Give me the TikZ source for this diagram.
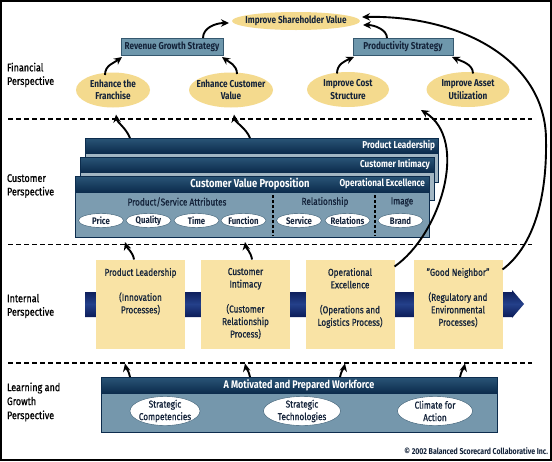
\documentclass[tikz,border=0pt]{standalone}
\usepackage{fontspec}
\setmainfont{Fira Sans}[FakeStretch=0.82, UprightFeatures={FakeBold=0.8}]
\usetikzlibrary{arrows.meta,calc,shapes.geometric}
\definecolor{yel}{HTML}{F4DA8E}
\definecolor{yelbox}{HTML}{F9E3A5}
\definecolor{steel}{HTML}{6E97AC}
\definecolor{steelD}{HTML}{35586F}
\definecolor{hdrL}{HTML}{2A5577}
\definecolor{hdrD}{HTML}{0C2C4D}
\definecolor{cbody}{HTML}{7C9CB0}
\definecolor{cbodyL}{HTML}{A2B6C3}
\definecolor{bandD}{HTML}{0A1A55}
\definecolor{bandL}{HTML}{24408A}
\definecolor{lbody}{HTML}{7597AC}
\definecolor{txtD}{HTML}{14233A}
\begin{document}
\begin{tikzpicture}[x=1pt,y=-1pt,
  every node/.style={inner sep=0pt, outer sep=0pt, text=txtD, font=\fontsize{10}{12.5}\selectfont},
  yshape/.style={ellipse, fill=yel},
  ytext/.style={align=center, font=\bfseries\fontsize{10}{12.5}\selectfont},
  sbox/.style={rectangle, fill=steel, draw=steelD, line width=0.6pt, minimum height=17pt, font=\bfseries\fontsize{10}{12}\selectfont},
  persp/.style={anchor=west, align=left, text=black, font=\fontsize{11}{13.5}\selectfont},
  wshape/.style={ellipse, fill=white, draw=steelD, line width=0.4pt, minimum width=45pt, minimum height=14pt},
  wtext/.style={font=\bfseries\fontsize{9.5}{11}\selectfont},
  lshape/.style={ellipse, fill=white, draw=steelD, line width=0.4pt, minimum height=29pt},
  ltext/.style={align=center, font=\fontsize{10}{12.5}\selectfont},
  ybox/.style={rectangle, fill=yelbox, minimum width=89pt, minimum height=89pt},
  ytxt/.style={anchor=north, align=center, font=\fontsize{10}{12.5}\selectfont},
  card/.style={rectangle, draw=hdrD, line width=0.6pt, anchor=north west},
  hdr/.style={top color=hdrL, bottom color=hdrD, draw=hdrD, line width=0.6pt},
  htxt/.style={text=white, font=\bfseries\fontsize{10}{12}\selectfont},
  divline/.style={line width=1.5pt, dash pattern=on 5pt off 3pt},
  vdiv/.style={line width=1.3pt, dash pattern=on 3pt off 2pt},
  arr/.style={line width=1.9pt, -{Stealth[length=8pt,width=7.5pt]}},
]
\useasboundingbox (0,0) rectangle (552,461);
\fill[white] (0,0) rectangle (552,461);

% ---------- Financial ----------
\node[yshape, minimum width=128pt, minimum height=18pt] (sv) at (296,21) {};
\node[ytext] (svt) at (sv) {Improve Shareholder Value};
\node[sbox, minimum width=102pt] (rev) at (172,46.5) {Revenue Growth Strategy};
\node[sbox, minimum width=100pt] (prod) at (403,46.5) {Productivity Strategy};
\node[yshape, minimum width=74pt, minimum height=35pt] (fr) at (113,90) {};
\node[ytext] (frt) at (fr) {Enhance the\\Franchise};
\node[yshape, minimum width=84pt, minimum height=35pt] (cv) at (231,90) {};
\node[ytext] (cvt) at (cv) {Enhance Customer\\Value};
\node[yshape, minimum width=82pt, minimum height=35pt] (cs) at (348,89.5) {};
\node[ytext] (cst) at (cs) {Improve Cost\\Structure};
\node[yshape, minimum width=83pt, minimum height=35pt] (au) at (468,89.5) {};
\node[ytext] (aut) at (au) {Improve Asset\\Utilization};

% ---------- perspective labels ----------
\node[persp] (lf) at (7,75) {Financial\\Perspective};
\node[persp] (lc) at (7,186) {Customer\\Perspective};
\node[persp] (li) at (7,306) {Internal\\Perspective};
\node[persp, font=\fontsize{11}{14}\selectfont] (ll) at (7,402) {Learning and\\Growth\\Perspective};

% ---------- dividers ----------
\draw[divline] (8,119) -- (532,119);
\draw[divline] (8,244.5) -- (532,244.5);
\draw[divline] (8,363) -- (532,363);

% ---------- Customer ----------
\node[card, fill=cbodyL, minimum width=353pt, minimum height=44pt] (plc) at (85,138) {};
\draw[hdr] (85,138) rectangle (438,153);
\node[htxt, anchor=east] (plt) at (435,145.5) {Product Leadership};
\node[card, fill=cbodyL, minimum width=354pt, minimum height=43pt] (cic) at (80,157) {};
\draw[hdr] (80,157) rectangle (434,172);
\node[htxt, anchor=east] (cit) at (430,164.5) {Customer Intimacy};
\node[card, fill=cbody, minimum width=354pt, minimum height=61pt] (fc) at (75,176) {};
\draw[hdr] (75,176) rectangle (429,192);
\node[htxt, font=\bfseries\fontsize{11.5}{13}\selectfont] (cvp) at (250,184) {Customer Value Proposition};
\node[htxt, anchor=east] (oet) at (425,184) {Operational Excellence};
\node (psa) at (177,202) {Product/Service Attributes};
\node (rel) at (325,202) {Relationship};
\node (img) at (402,202) {Image};
\draw[vdiv] (273,195) -- (273,236);
\draw[vdiv] (375,195) -- (375,236);
\node[wshape] (e1) at (101,220.5) {}; \node[wtext] (e1t) at (e1) {Price};
\node[wshape] (e2) at (148.5,220.5) {}; \node[wtext] (e2t) at (e2) {Quality};
\node[wshape] (e3) at (196.5,220.5) {}; \node[wtext] (e3t) at (e3) {Time};
\node[wshape] (e4) at (243.5,220.5) {}; \node[wtext] (e4t) at (e4) {Function};
\node[wshape] (e5) at (299,220.5) {}; \node[wtext] (e5t) at (e5) {Service};
\node[wshape] (e6) at (347.5,220.5) {}; \node[wtext] (e6t) at (e6) {Relations};
\node[wshape] (e7) at (400.5,220.5) {}; \node[wtext] (e7t) at (e7) {Brand};

% ---------- Internal ----------
\shade[top color=bandD, bottom color=bandD, middle color=bandL]
  (85,292) -- (512,292) -- (512,290) -- (524,304) -- (512,318) -- (512,317) -- (85,317) -- cycle;
\node[ybox] (b1) at (140.5,304) {};
\node[ybox] (b2) at (245.5,304) {};
\node[ybox] (b3) at (350,304) {};
\node[ybox] (b4) at (458,304) {};
\node[ytxt] (t1) at (140.5,268) {Product Leadership\\[12.5pt](Innovation\\Processes)};
\node[ytxt] (t2) at (245.5,268) {Customer\\Intimacy\\[12.5pt](Customer\\Relationship\\Process)};
\node[ytxt] (t3) at (350,268) {Operational\\Excellence\\[12.5pt](Operations and\\Logistics Process)};
\node[ytxt] (t4) at (458,268) {"Good Neighbor"\\[12.5pt](Regulatory and\\Environmental\\Processes)};

% ---------- Learning ----------
\node[card, fill=lbody, minimum width=396pt, minimum height=55pt] (lb) at (101,377) {};
\draw[hdr] (101,377) rectangle (497,393);
\node[htxt, font=\bfseries\fontsize{11}{13}\selectfont] (lbt) at (299,385) {A Motivated and Prepared Workforce};
\node[lshape, minimum width=70pt] (sc) at (165,411) {};
\node[ltext] (sct) at (sc) {Strategic\\Competencies};
\node[lshape, minimum width=77pt] (stg) at (302,411) {};
\node[ltext] (stgt) at (stg) {Strategic\\Technologies};
\node[lshape, minimum width=75pt] (ca) at (435,411) {};
\node[ltext] (cat) at (ca) {Climate for\\Action};

\node[anchor=east, font=\bfseries\fontsize{8.5}{10}\selectfont] (cr) at (548,451) {© 2002 Balanced Scorecard Collaborative Inc.};

% ---------- arrows: financial ----------
\draw[arr] ($(fr.north)+(-8,2.5)$) .. controls (105,65) and (114,63) .. ($(rev.south west)+(1,2)$);
\draw[arr] ($(cv.north)+(6,1.5)$) .. controls (237,65) and (229,62) .. ($(rev.south east)+(-1,2)$);
\draw[arr] ($(rev.north)+(31,0)$) .. controls (203,28) and (215,23) .. ($(sv.west)+(-3,2)$);
\draw[arr] ($(prod.north)+(-16,0)$) .. controls (387,30) and (375,25) .. ($(sv.east)+(3,4)$);
\draw[arr] ($(cs.north)+(-11,1.5)$) .. controls (337,64) and (345,61) .. ($(prod.south west)+(1,2)$);
\draw[arr] ($(au.north)+(5,1.5)$) .. controls (473,64) and (461,61) .. ($(prod.south east)+(-1,2)$);
% customer -> financial
\draw[arr] ($(plc.north west)+(45,0)$) .. controls (126,128) and (117,122) .. ($(fr.south)+(3,7)$);
\draw[arr] ($(plc.north west)+(165,0)$) .. controls (246,128) and (235,122) .. ($(cv.south)+(3,7)$);
% internal -> customer
\draw[arr] ($(b1.north)+(-6.5,0)$) .. controls (133,252) and (127,248) .. ($(fc.south west)+(50,5)$);
\draw[arr] ($(b2.north)+(6.5,0)$) .. controls (251,252) and (246,248) .. ($(fc.south west)+(170,5)$);
% long arcs
\draw[arr] ($(b3.north east)+(0,7)$) .. controls (440,235) and (470,140) .. ($(au.south)+(-47,3)$);
\draw[arr] ($(b4.north east)+(0,10)$) .. controls (535,245) and (547,195) .. (546,140)
  .. controls (546,60) and (460,15) .. ($(sv.east)+(2,-4)$);
% learning -> internal
\draw[arr] ($(lb.north west)+(29,0)$) .. controls (129,371) and (126,368) .. ($(b1.south)+(-15.5,15)$);
\draw[arr] ($(lb.north west)+(149,0)$) .. controls (249,371) and (246,368) .. ($(b2.south)+(-0.5,15)$);
\draw[arr] ($(lb.north west)+(239,0)$) .. controls (341,371) and (344,368) .. ($(b3.south)+(-5,15)$);
\draw[arr] ($(lb.north west)+(359,0)$) .. controls (461,371) and (464,368) .. ($(b4.south)+(7,15)$);

% frame
\draw[line width=1.5pt] (1,1) rectangle (551,460);
\end{tikzpicture}
\end{document}
